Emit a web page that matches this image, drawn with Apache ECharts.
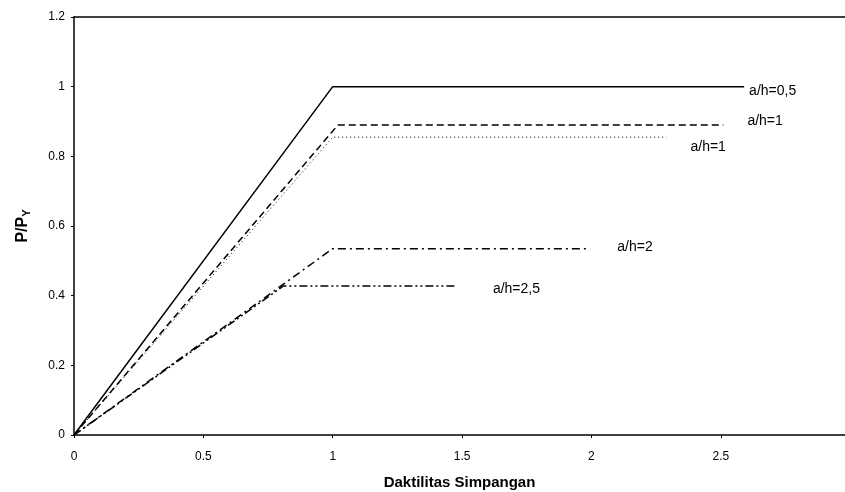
<!DOCTYPE html>
<html>
<head>
    <meta charset="UTF-8">
    <title></title>
    <script type="text/javascript" src="https://cdn.jsdelivr.net/npm/echarts@6/dist/echarts.min.js"></script>
</head>
<body style="margin:0;background:#fff;">
<div id="main" style="width: 845px;height:492px;"></div>
<script type="text/javascript">
    // data: [daktilitas, P/Py]
    var ah05 = [[0, 0], [1, 1], [2.59, 1]];
    var ah1a = [[0, 0], [1.02, 0.89], [2.51, 0.89]];
    var ah1b = [[0, 0], [1.0, 0.855], [2.29, 0.855]];
    var ah2 = [[0, 0], [1.0, 0.535], [1.98, 0.535]];
    var ah25 = [[0, 0], [0.81, 0.428], [1.48, 0.428]];
    var names = ['a/h=0,5', 'a/h=1', 'a/h=1', 'a/h=2', 'a/h=2,5'];
    var yTicks = [0, 0.2, 0.4, 0.6, 0.8, 1, 1.2];
    var xTicks = [0, 0.5, 1, 1.5, 2, 2.5];

    var myChart = echarts.init(document.getElementById('main'));

    function mkSeries(name, data, lineType, width, offset) {
        return {
            name: name,
            type: 'line',
            data: data,
            symbol: 'none',
            animation: false,
            lineStyle: {color: '#000', width: width, type: lineType},
            endLabel: {
                show: true,
                formatter: name,
                color: '#000',
                fontFamily: 'Liberation Sans',
                fontSize: 14,
                offset: offset
            }
        };
    }

    var option = {
        backgroundColor: '#fff',
        animation: false,
        grid: {left: 74, right: 0, top: 17, bottom: 57, containLabel: false, outerBoundsMode: 'none'},
        xAxis: [{
            type: 'value',
            min: 0,
            max: 2.98,
            interval: 0.5,
            name: 'Daktilitas Simpangan',
            nameLocation: 'middle',
            nameGap: 40,
            nameTextStyle: {fontFamily: 'Liberation Sans', fontSize: 15, fontWeight: 'bold', color: '#000'},
            axisLine: {lineStyle: {color: '#000', width: 1.5}},
            axisTick: {show: true, length: 3, lineStyle: {color: '#000'}},
            axisLabel: {
                color: '#000', fontFamily: 'Liberation Sans', fontSize: 12, margin: 16,
                showMaxLabel: false,
                formatter: function (v) { return xTicks.indexOf(v) >= 0 ? String(v) : ''; }
            },
            splitLine: {show: false}
        }, {
            type: 'value',
            position: 'top',
            min: 0,
            max: 2.98,
            axisLine: {show: true, lineStyle: {color: '#000', width: 1.5}},
            axisTick: {show: false},
            axisLabel: {show: false},
            splitLine: {show: false}
        }],
        yAxis: {
            type: 'value',
            min: 0,
            max: 1.2,
            interval: 0.2,
            name: 'P/P{s|Y}',
            nameLocation: 'middle',
            nameGap: 42,
            nameRotate: 90,
            nameTextStyle: {
                fontFamily: 'Liberation Sans', fontSize: 16, fontWeight: 'bold', color: '#000',
                rich: {s: {fontFamily: 'Liberation Sans', fontSize: 11, fontWeight: 'bold', color: '#000', verticalAlign: 'bottom', padding: [7, 0, 0, 0]}}
            },
            axisLine: {show: true, lineStyle: {color: '#000', width: 1.5}},
            axisTick: {show: true, length: 3, lineStyle: {color: '#000'}},
            axisLabel: {
                color: '#000', fontFamily: 'Liberation Sans', fontSize: 12, margin: 9,
                formatter: function (v) { return yTicks.indexOf(v) >= 0 ? String(v) : ''; }
            },
            splitLine: {show: false}
        },
        series: [
            mkSeries(names[0], ah05, 'solid', 1.5, [-3, 4]),
            mkSeries(names[1], ah1a, [7, 4], 1.5, [16, -4]),
            mkSeries(names[2], ah1b, [1, 3], 1, [16, 10]),
            mkSeries(names[3], ah2, [8, 4, 2, 4], 1.5, [23, -2]),
            mkSeries(names[4], ah25, [8, 3, 2, 3, 2, 3], 1.5, [28, 3])
        ]
    };

    myChart.setOption(option);
</script>
</body>
</html>
